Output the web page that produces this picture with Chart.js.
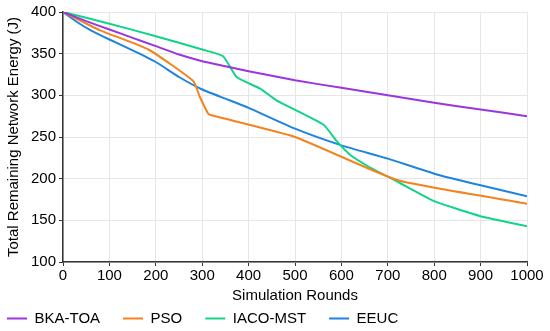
<!DOCTYPE html>
<html>
<head>
<meta charset="utf-8">
<script src="https://cdn.jsdelivr.net/npm/chart.js@4"></script>
<style>
  html, body { margin: 0; padding: 0; background: #fff; }
  #wrap { width: 550px; height: 331px; }
</style>
</head>
<body>
<div id="wrap"><canvas id="energy-chart"></canvas></div>
<script>
const xTicks = [0, 100, 200, 300, 400, 500, 600, 700, 800, 900, 1000]
const yTicks = [100, 150, 200, 250, 300, 350, 400]

const bkaRounds = [0, 50, 100, 150, 200, 250, 300, 350, 400, 500, 600, 700, 800, 900, 1000]
const bkaEnergy = [400, 389, 379, 369, 359, 349, 341, 335, 329, 318, 309, 300, 291, 283, 275]

const psoRounds = [0, 80, 184, 281, 295, 313, 320, 500, 722, 1000]
const psoEnergy = [400, 378, 355, 317, 298, 278, 276, 250, 198, 170]

const iacoRounds = [0, 100, 200, 300, 345, 374, 425, 460, 561, 590, 620, 660, 722, 800, 900, 1000]
const iacoEnergy = [400, 386, 371, 355, 347, 322, 308, 294, 265, 245, 228, 214, 196, 173, 155, 143]

const eeucRounds = [0, 30, 60, 100, 150, 200, 250, 300, 350, 400, 500, 600, 700, 800, 900, 1000]
const eeucEnergy = [400, 388, 378, 367, 354, 340, 322, 307, 296, 285, 260, 240, 224, 206, 192, 179]

const toPoints = (xs, ys) => xs.map((x, i) => ({ x: x, y: ys[i] }))

const series = [
  { label: 'BKA-TOA', color: '#9b35dc', data: toPoints(bkaRounds, bkaEnergy) },
  { label: 'PSO', color: '#f2831f', data: toPoints(psoRounds, psoEnergy) },
  { label: 'IACO-MST', color: '#12d488', data: toPoints(iacoRounds, iacoEnergy) },
  { label: 'EEUC', color: '#1e84dd', data: toPoints(eeucRounds, eeucEnergy) }
]

const font = { family: "'Liberation Sans', Arial, sans-serif", size: 15 }

new Chart(document.getElementById('energy-chart'), {
  type: 'line',
  data: {
    datasets: series.map((s) => ({
      label: s.label,
      data: s.data,
      borderColor: s.color,
      backgroundColor: s.color,
      borderWidth: 2,
      pointRadius: 0,
      pointStyle: 'line',
      tension: 0.15
    }))
  },
  options: {
    responsive: true,
    maintainAspectRatio: false,
    animation: false,
    // negative left lets the legend start near the edge while the axis title keeps its place
    layout: { padding: { top: 11, right: 23, left: -16, bottom: 0 } },
    plugins: {
      legend: {
        position: 'bottom',
        align: 'start',
        maxHeight: 43,
        labels: {
          usePointStyle: true,
          pointStyleWidth: 20,
          color: '#000',
          font: font,
          padding: 23
        }
      },
      tooltip: { enabled: false }
    },
    scales: {
      x: {
        type: 'linear',
        min: 0,
        max: 1000,
        afterBuildTicks: (axis) => { axis.ticks = xTicks.map((v) => ({ value: v })) },
        ticks: { color: '#000', font: font, maxRotation: 0, padding: 1, callback: (v) => String(v) },
        grid: { color: '#e6e6e6', tickColor: '#333', tickLength: 4 },
        border: { color: '#333', width: 1.5 },
        title: { display: true, text: 'Simulation Rounds', color: '#000', font: font, padding: { top: 1, bottom: -17 } }
      },
      y: {
        min: 100,
        max: 400,
        afterBuildTicks: (axis) => { axis.ticks = yTicks.map((v) => ({ value: v })) },
        ticks: { color: '#000', font: font, padding: 3 },
        grid: { color: '#e6e6e6', tickColor: '#333', tickLength: 4 },
        border: { color: '#333', width: 1.5 },
        title: { display: true, text: 'Total Remaining Network Energy (J)', color: '#000', font: font, padding: { top: 21, bottom: 5 } }
      }
    }
  }
})
</script>
</body>
</html>
